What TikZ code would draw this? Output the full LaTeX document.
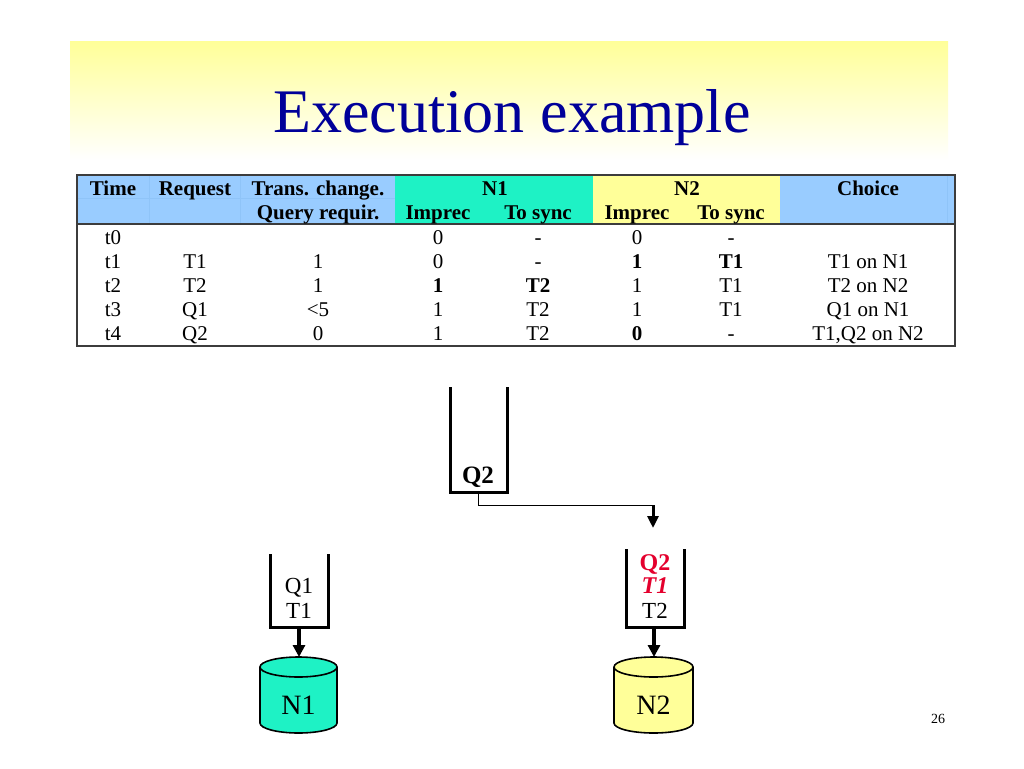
\documentclass[tikz,border=0pt]{standalone}
\usepackage{fontspec}
\setmainfont{Liberation Serif}
\usetikzlibrary{arrows.meta}
\definecolor{ltblue}{RGB}{153,204,255}
\definecolor{mint}{RGB}{30,242,197}
\definecolor{paleyellow}{RGB}{255,255,153}
\definecolor{titleblue}{RGB}{0,0,153}
\definecolor{hired}{RGB}{228,0,45}
\definecolor{gridgray}{RGB}{60,60,60}
\definecolor{faintline}{RGB}{143,196,248}
\begin{document}
\begin{tikzpicture}[x=1pt,y=-1pt,
  cell/.style={anchor=base,inner sep=0pt,font=\fontsize{21}{24}\selectfont},
  hcell/.style={cell,font=\fontsize{21}{24}\selectfont\bfseries},
  qtext/.style={anchor=base,inner sep=0pt,font=\fontsize{23}{26}\selectfont},
  cyltext/.style={anchor=base,inner sep=0pt,font=\fontsize{28}{30}\selectfont},
  queue/.style={line width=3pt,line join=miter},
  bigarrow/.style={line width=3.5pt,-{Triangle[length=12pt,width=12pt]}},
  cyl/.style={draw=black,line width=1.6pt}
]
\useasboundingbox (0,0) rectangle (1024,768);
\fill[white] (0,0) rectangle (1024,768);

% title band
\shade[top color=paleyellow,bottom color=white] (70,42) rectangle (948,160);
\node[anchor=base,inner sep=0pt,text=titleblue,font=\fontsize{62}{66}\selectfont] (title) at (512,132) {Execution example};

% table backgrounds
\fill[ltblue] (77,175) rectangle (395,224);
\fill[mint] (395,175) rectangle (593,224);
\fill[paleyellow] (593,175) rectangle (780,224);
\fill[ltblue] (780,175) rectangle (955,224);
\draw[faintline,line width=0.4pt] (77,198) -- (395,198);
\draw[faintline,line width=0.4pt] (149,175) -- (149,224) (240,175) -- (240,224) (947,175) -- (947,224);
% table borders
\draw[gridgray,line width=1.3pt] (77,175) rectangle (955,346);
\draw[gridgray,line width=1.3pt] (77,224) -- (955,224);

% header
\node[hcell] (hTime) at (113,195) {Time};
\node[hcell] (hReq) at (195,195) {Request};
\node[hcell] (hTrans) at (318,195) {Trans. change.};
\node[hcell] (hN1) at (495,195) {N1};
\node[hcell] (hN2) at (687,195) {N2};
\node[hcell] (hChoice) at (868,195) {Choice};
\node[hcell] (hQuery) at (318,219) {Query requir.};
\node[hcell] (hImp1) at (438,219) {Imprec};
\node[hcell] (hSync1) at (538,219) {To sync};
\node[hcell] (hImp2) at (637,219) {Imprec};
\node[hcell] (hSync2) at (731,219) {To sync};

% row t0
\node[cell] (r0a) at (113,244) {t0};
\node[cell] (r0d) at (438,244) {0};
\node[cell] (r0e) at (538,244) {-};
\node[cell] (r0f) at (637,244) {0};
\node[cell] (r0g) at (731,244) {-};
% row t1
\node[cell] (r1a) at (113,268) {t1};
\node[cell] (r1b) at (195,268) {T1};
\node[cell] (r1c) at (318,268) {1};
\node[cell] (r1d) at (438,268) {0};
\node[cell] (r1e) at (538,268) {-};
\node[cell] (r1f) at (637,268) {\bfseries 1};
\node[cell] (r1g) at (731,268) {\bfseries T1};
\node[cell] (r1h) at (868,268) {T1 on N1};
% row t2
\node[cell] (r2a) at (113,292) {t2};
\node[cell] (r2b) at (195,292) {T2};
\node[cell] (r2c) at (318,292) {1};
\node[cell] (r2d) at (438,292) {\bfseries 1};
\node[cell] (r2e) at (538,292) {\bfseries T2};
\node[cell] (r2f) at (637,292) {1};
\node[cell] (r2g) at (731,292) {T1};
\node[cell] (r2h) at (868,292) {T2 on N2};
% row t3
\node[cell] (r3a) at (113,316) {t3};
\node[cell] (r3b) at (195,316) {Q1};
\node[cell] (r3c) at (318,316) {<5};
\node[cell] (r3d) at (438,316) {1};
\node[cell] (r3e) at (538,316) {T2};
\node[cell] (r3f) at (637,316) {1};
\node[cell] (r3g) at (731,316) {T1};
\node[cell] (r3h) at (868,316) {Q1 on N1};
% row t4
\node[cell] (r4a) at (113,340) {t4};
\node[cell] (r4b) at (195,340) {Q2};
\node[cell] (r4c) at (318,340) {0};
\node[cell] (r4d) at (438,340) {1};
\node[cell] (r4e) at (538,340) {T2};
\node[cell] (r4f) at (637,340) {\bfseries 0};
\node[cell] (r4g) at (731,340) {-};
\node[cell] (r4h) at (868,340) {T1,Q2 on N2};

% top queue Q2
\draw[queue] (450,387) -- (450,492) -- (507,492) -- (507,387);
\coordinate (qtop) at (478,492);
\node[qtext,font=\fontsize{25}{28}\selectfont\bfseries] (q2label) at (478,483) {Q2};
\coordinate (corner) at (653,505);
\coordinate (dropend) at (653,528);
\draw[line width=1pt] (qtop) |- (corner);
\draw[line width=3pt,-{Triangle[length=12pt,width=11pt]}] (corner) -- (dropend);

% N1 queue
\draw[queue] (270,554) -- (270,627) -- (328,627) -- (328,554);
\coordinate (q1bot) at (299,627);
\node[qtext] (q1a) at (299,593) {Q1};
\node[qtext] (q1b) at (299,618) {T1};

% N2 queue
\draw[queue] (626,549) -- (626,627) -- (684,627) -- (684,549);
\coordinate (q2bot) at (654,627);
\node[qtext,text=hired,font=\fontsize{24}{26}\selectfont\bfseries] (q2a) at (655,570) {Q2};
\node[qtext,text=hired,font=\fontsize{24}{26}\selectfont\bfseries\itshape] (q2b) at (655,593) {T1};
\node[qtext] (q2c) at (655,618) {T2};

% N1 cylinder
\fill[mint] (260,667) -- (260,723) arc (180:360:38.5pt and 10pt) -- (337,667) arc (0:180:38.5pt and 10pt) -- cycle;
\draw[cyl] (260,667) -- (260,723) arc (180:360:38.5pt and 10pt) -- (337,667);
\draw[cyl] (298.5,667) ellipse (38.5pt and 10pt);
\coordinate (n1top) at (299,657);
\node[cyltext] (n1) at (298.5,714) {N1};

% N2 cylinder
\fill[paleyellow] (614,667) -- (614,723) arc (180:360:39.5pt and 10pt) -- (693,667) arc (0:180:39.5pt and 10pt) -- cycle;
\draw[cyl] (614,667) -- (614,723) arc (180:360:39.5pt and 10pt) -- (693,667);
\draw[cyl] (653.5,667) ellipse (39.5pt and 10pt);
\coordinate (n2top) at (654,657);
\node[cyltext] (n2) at (653.5,714) {N2};

% arrows queue -> cylinder
\draw[bigarrow] (q1bot) -- (n1top);
\draw[bigarrow] (q2bot) -- (n2top);

% page number
\node[anchor=base,inner sep=0pt,font=\fontsize{14}{16}\selectfont] (pagenum) at (938,723) {26};
\end{tikzpicture}
\end{document}
